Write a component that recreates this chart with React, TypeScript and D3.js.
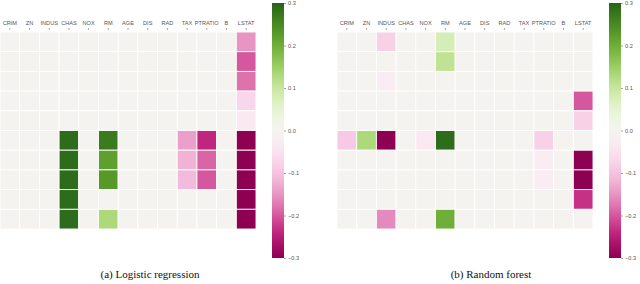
import React, { useEffect, useRef } from 'react';
import * as d3 from 'd3';

const features = ['CRIM', 'ZN', 'INDUS', 'CHAS', 'NOX', 'RM', 'AGE', 'DIS', 'RAD', 'TAX', 'PTRATIO', 'B', 'LSTAT'];

// rows: 10 samples, columns follow `features`
const logisticValues = [
  [0, 0, 0, 0, 0, 0, 0, 0, 0, 0, 0, 0, -0.15],
  [0, 0, 0, 0, 0, 0, 0, 0, 0, 0, 0, 0, -0.2],
  [0, 0, 0, 0, 0, 0, 0, 0, 0, 0, 0, 0, -0.18],
  [0, 0, 0, 0, 0, 0, 0, 0, 0, 0, 0, 0, -0.07],
  [0, 0, 0, 0, 0, 0, 0, 0, 0, 0, 0, 0, -0.035],
  [0, 0, 0, 0.29, 0, 0.27, 0, 0, 0, -0.14, -0.24, 0, -0.3],
  [0, 0, 0, 0.29, 0, 0.22, 0, 0, 0, -0.12, -0.19, 0, -0.3],
  [0, 0, 0, 0.29, 0, 0.23, 0, 0, 0, -0.11, -0.2, 0, -0.3],
  [0, 0, 0, 0.29, 0, 0, 0, 0, 0, 0, 0, 0, -0.3],
  [0, 0, 0, 0.29, 0, 0.13, 0, 0, 0, 0, 0, 0, -0.3],
];

const forestValues = [
  [0, 0, -0.08, 0, 0, 0.08, 0, 0, 0, 0, 0, 0, 0],
  [0, 0, 0, 0, 0, 0.11, 0, 0, 0, 0, 0, 0, 0],
  [0, 0, -0.025, 0, 0, 0, 0, 0, 0, 0, 0, 0, 0],
  [0, 0, 0, 0, 0, 0, 0, 0, 0, 0, 0, 0, -0.2],
  [0, 0, 0, 0, 0, 0, 0, 0, 0, 0, 0, 0, -0.08],
  [-0.09, 0.13, -0.3, 0, -0.035, 0.29, 0, 0, 0, 0, -0.08, 0, 0],
  [0, 0, 0, 0, 0, 0, 0, 0, 0, 0, -0.025, 0, -0.3],
  [0, 0, 0, 0, 0, 0, 0, 0, 0, 0, -0.025, 0, -0.3],
  [0, 0, 0, 0, 0, 0, 0, 0, 0, 0, 0, 0, -0.23],
  [0, 0, -0.16, 0, 0, 0.2, 0, 0, 0, 0, 0, 0, 0],
];

const colorTicks = [0.3, 0.2, 0.1, 0.0, -0.1, -0.2, -0.3];

const panels = [
  { id: 'a', values: logisticValues, x: 0, barX: 272, caption: '(a) Logistic regression', captionX: 150 },
  { id: 'b', values: forestValues, x: 337, barX: 609, caption: '(b) Random forest', captionX: 491 },
];

const App = () => {
  const svgRef = useRef<SVGSVGElement>(null);
  const width = 640;
  const height = 284;
  const mapW = 256;
  const top = 32;
  const bottom = 229;

  useEffect(() => {
    const svg = d3.select(svgRef.current);
    svg.selectAll('*').remove();

    const color = (v: number) => d3.interpolatePiYG((v + 0.3) / 0.6);
    const cScale = d3.scaleLinear().domain([-0.3, 0.3]).range([258, 3]);

    const defs = svg.append('defs');
    const grad = defs.append('linearGradient')
      .attr('id', 'piyg')
      .attr('x1', 0).attr('y1', 1).attr('x2', 0).attr('y2', 0);
    d3.range(0, 1.0001, 0.05).forEach(t => {
      grad.append('stop').attr('offset', t).attr('stop-color', d3.interpolatePiYG(t));
    });

    panels.forEach(p => {
      const g = svg.append('g');
      const xScale = d3.scaleBand().domain(features).range([p.x, p.x + mapW]);
      const yScale = d3.scaleBand<number>().domain(d3.range(p.values.length)).range([top, bottom]);

      const cells = p.values.flatMap((row, r) => row.map((v, c) => ({ r, c, v })));
      g.selectAll('.cell')
        .data(cells)
        .enter()
        .append('rect')
        .attr('x', d => xScale(features[d.c])!)
        .attr('y', d => yScale(d.r)!)
        .attr('width', xScale.bandwidth())
        .attr('height', yScale.bandwidth())
        .attr('fill', d => color(d.v))
        .attr('stroke', '#fff')
        .attr('stroke-width', 0.9);

      // column labels on top
      const xAxis = g.append('g')
        .attr('transform', `translate(0,${top - 2})`)
        .call(d3.axisTop(xScale).tickSize(2).tickPadding(3));
      xAxis.select('.domain').remove();
      xAxis.selectAll('line').attr('stroke', '#666').attr('stroke-width', 0.6);
      xAxis.selectAll('text')
        .attr('font-size', 5.6)
        .attr('font-family', 'Liberation Sans, Arial, sans-serif')
        .attr('fill', '#555');

      // colorbar
      svg.append('rect')
        .attr('x', p.barX)
        .attr('y', 3)
        .attr('width', 12)
        .attr('height', 255)
        .attr('fill', 'url(#piyg)');

      const cAxis = svg.append('g')
        .attr('transform', `translate(${p.barX + 12},0)`)
        .call(d3.axisRight(cScale).tickValues(colorTicks).tickFormat(d3.format('.1f')).tickSize(2).tickPadding(2));
      cAxis.select('.domain').remove();
      cAxis.selectAll('line').attr('stroke', '#666').attr('stroke-width', 0.6);
      cAxis.selectAll('text')
        .attr('font-size', 5.6)
        .attr('font-family', 'Liberation Sans, Arial, sans-serif')
        .attr('fill', '#555');

      svg.append('text')
        .attr('x', p.captionX)
        .attr('y', 278)
        .attr('text-anchor', 'middle')
        .attr('font-family', 'Liberation Serif, Times New Roman, serif')
        .attr('font-size', 11)
        .attr('fill', '#111')
        .text(p.caption);
    });
  }, []);

  return (
    <div style={{ position: 'absolute', left: 0, top: 0 }}>
      <svg ref={svgRef} width={width} height={height} style={{ display: 'block', background: '#fff' }} />
    </div>
  );
};

export default App;
